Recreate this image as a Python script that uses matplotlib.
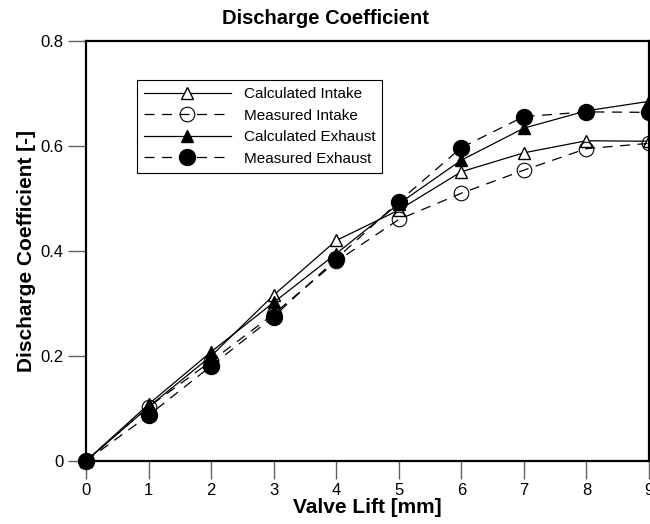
import matplotlib
matplotlib.use('Agg')
import matplotlib.pyplot as plt
from matplotlib.ticker import FormatStrFormatter

plt.rcParams['font.family'] = ['Liberation Sans', 'DejaVu Sans']

# valve lift [mm]
lift = [0, 1, 2, 3, 4, 5, 6, 7, 8, 9]

# discharge coefficient [-]
calc_intake = [0, 0.103, 0.200, 0.316, 0.420, 0.478, 0.551, 0.587, 0.610, 0.609]
meas_intake = [0, 0.103, 0.190, 0.280, 0.380, 0.460, 0.510, 0.554, 0.595, 0.605]
calc_exhaust = [0, 0.108, 0.208, 0.302, 0.395, 0.490, 0.573, 0.634, 0.667, 0.685]
meas_exhaust = [0, 0.087, 0.181, 0.275, 0.385, 0.494, 0.597, 0.656, 0.665, 0.664]

fig = plt.figure(figsize=(6.5, 5.24), dpi=100)
ax = fig.add_axes([0.1323, 0.1202, 0.8662, 0.8016])

estilo = dict(color='black', linewidth=0.9, clip_on=False)
ax.plot(lift, calc_intake, '-', marker='^', markersize=8.5, mfc='white',
        mec='black', mew=1.0, label='Calculated Intake', **estilo)
ax.plot(lift, meas_intake, '--', marker='o', markersize=10.5, mfc='none',
        mec='black', mew=0.8, dashes=(8, 6), label='Measured Intake', **estilo)
ax.plot(lift, calc_exhaust, '-', marker='^', markersize=9, mfc='black',
        mec='black', label='Calculated Exhaust', **estilo)
ax.plot(lift, meas_exhaust, '--', marker='o', markersize=11.5, mfc='black',
        mec='black', dashes=(8, 6), label='Measured Exhaust', **estilo)

ax.set_xlim(0, 9)
ax.set_ylim(0, 0.8)
ax.set_xticks(range(0, 10))
ax.set_yticks([0, 0.2, 0.4, 0.6, 0.8])
ax.yaxis.set_major_formatter(FormatStrFormatter('%g'))
ax.tick_params(axis='both', direction='out', length=13, width=1, color='#606060',
               labelsize=12, pad=3)
for s in ax.spines.values():
    s.set_linewidth(1.6)

# titulo centrado na figura
fig.text(0.5, 0.965, 'Discharge Coefficient', ha='center', va='center',
         fontsize=14.5, fontweight='bold')
ax.set_xlabel('Valve Lift [mm]', fontsize=15, fontweight='bold', labelpad=0)
ax.set_ylabel('Discharge Coefficient [-]', fontsize=15, fontweight='bold', labelpad=3)

leg = ax.legend(loc='upper left', bbox_to_anchor=(0.0906, 0.907), fontsize=11,
                handlelength=5.7, frameon=True, fancybox=False, framealpha=1,
                edgecolor='black', borderpad=0.45, labelspacing=0.5,
                handletextpad=0.85, borderaxespad=0)
leg.get_frame().set_linewidth(0.8)

fig.savefig('out.png', dpi=100)
